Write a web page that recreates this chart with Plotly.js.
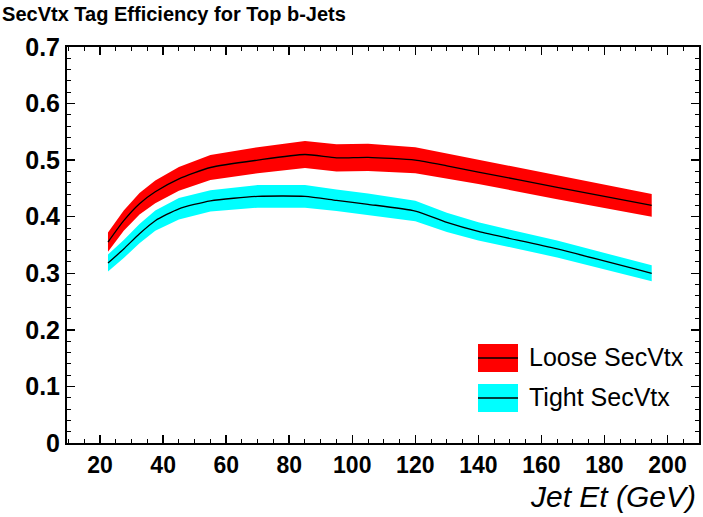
<!DOCTYPE html>
<html>
<head>
<meta charset="utf-8">
<script src="https://cdn.plot.ly/plotly-3.0.1.min.js"></script>
<style>html,body{margin:0;padding:0;background:#fff;}#chart{width:703px;height:517px;}</style>
</head>
<body>
<div id="chart"></div>
<script>
// Jet Et bin centres (GeV)
const jetEt = [22.5, 27.5, 32.5, 37.5, 45, 55, 70, 85, 95, 105, 120, 130, 140, 165, 195];
// Loose SecVtx efficiency and band half-width
const looseEff = [0.355, 0.393, 0.423, 0.444, 0.467, 0.487, 0.500, 0.510, 0.504, 0.505, 0.500, 0.490, 0.479, 0.452, 0.420];
const looseErr = [0.017, 0.018, 0.019, 0.020, 0.021, 0.022, 0.023, 0.024, 0.024, 0.024, 0.023, 0.022, 0.021, 0.021, 0.020];
// Tight SecVtx efficiency and band half-width
const tightEff = [0.318, 0.343, 0.370, 0.393, 0.414, 0.428, 0.436, 0.436, 0.429, 0.422, 0.410, 0.390, 0.374, 0.343, 0.300];
const tightErr = [0.015, 0.016, 0.017, 0.018, 0.019, 0.019, 0.020, 0.020, 0.019, 0.019, 0.018, 0.017, 0.016, 0.015, 0.014];
const xTicks = [20, 40, 60, 80, 100, 120, 140, 160, 180, 200];
const yTicks = [0, 0.1, 0.2, 0.3, 0.4, 0.5, 0.6, 0.7];
const seriesNames = ["Loose SecVtx", "Tight SecVtx"];
const seriesColors = ["#ff0000", "#00ffff"];

const FONT = "Liberation Sans, Arial, Helvetica, sans-serif";

function band(eff, err, color) {
  const up = eff.map((v, i) => v + err[i]);
  const lo = eff.map((v, i) => v - err[i]);
  return [
    {x: jetEt, y: up, mode: "lines", line: {width: 0, color: color}, showlegend: false, hoverinfo: "skip"},
    {x: jetEt, y: lo, mode: "lines", line: {width: 0, color: color}, fill: "tonexty", fillcolor: color, showlegend: false, hoverinfo: "skip"}
  ];
}
function centre(eff, name) {
  return {x: jetEt, y: eff, name: name, mode: "lines", line: {color: "#000", width: 1.3, shape: "spline", smoothing: 0.6}, showlegend: false};
}

const data = [
  ...band(looseEff, looseErr, seriesColors[0]),
  ...band(tightEff, tightErr, seriesColors[1]),
  centre(looseEff, seriesNames[0]),
  centre(tightEff, seriesNames[1])
];

// manual ROOT-style legend (paper coords)
const L = 67, T = 47, W = 632, H = 396;
const px = v => (v - L) / W;
const py = v => (T + H - v) / H;
const legendRows = [{y0: 344, y1: 372, ly: 358, ty: 357}, {y0: 384, y1: 412, ly: 398, ty: 397}];
const shapes = [];
const annotations = [];
legendRows.forEach((r, i) => {
  shapes.push({type: "rect", xref: "paper", yref: "paper", x0: px(478), x1: px(518), y0: py(r.y1), y1: py(r.y0), fillcolor: seriesColors[i], line: {width: 0}});
  shapes.push({type: "line", xref: "paper", yref: "paper", x0: px(478), x1: px(518), y0: py(r.ly), y1: py(r.ly), line: {color: "#000", width: 1.3}});
  annotations.push({xref: "paper", yref: "paper", x: px(527), y: py(r.ty), xanchor: "left", yanchor: "middle", showarrow: false, text: seriesNames[i], font: {family: FONT, size: 25, color: "#000"}});
});
annotations.push({xref: "paper", yref: "paper", x: px(698), y: py(496), xanchor: "right", yanchor: "middle", showarrow: false, text: "Jet Et (GeV)", font: {family: FONT, size: 30, color: "#000", style: "italic"}});

const layout = {
  width: 703, height: 517,
  margin: {l: L, r: 703 - L - W, t: T, b: 517 - T - H, pad: 0},
  paper_bgcolor: "#fff", plot_bgcolor: "#fff",
  title: {text: "SecVtx Tag Efficiency for Top b-Jets", x: 0.003, xanchor: "left", xref: "container", y: 1 - 14 / 517, yanchor: "middle", yref: "container", font: {family: FONT, size: 20, weight: "bold", color: "#000"}},
  xaxis: {
    range: [9.5, 210], tickvals: xTicks, ticktext: xTicks.map(String),
    ticks: "inside", ticklen: 8, tickwidth: 1.5, tickcolor: "#000",
    minor: {dtick: 5, tick0: 0, ticks: "inside", ticklen: 4, tickwidth: 1, tickcolor: "#000"},
    showline: true, linewidth: 2, linecolor: "#000", mirror: "ticks",
    showgrid: false, zeroline: false,
    tickfont: {family: FONT, size: 23, weight: "bold", color: "#000"}
  },
  yaxis: {
    range: [0, 0.7], tickvals: yTicks, ticktext: yTicks.map(v => v === 0 ? "0" : v.toFixed(1)),
    ticks: "inside", ticklen: 8, tickwidth: 1.5, tickcolor: "#000",
    minor: {dtick: 0.02, tick0: 0, ticks: "inside", ticklen: 4, tickwidth: 1, tickcolor: "#000"},
    showline: true, linewidth: 2, linecolor: "#000", mirror: "ticks",
    showgrid: false, zeroline: false,
    tickfont: {family: FONT, size: 25, weight: "bold", color: "#000"}
  },
  shapes: shapes,
  annotations: annotations,
  showlegend: false
};

Plotly.newPlot("chart", data, layout, {staticPlot: true, displayModeBar: false});
</script>
</body>
</html>
